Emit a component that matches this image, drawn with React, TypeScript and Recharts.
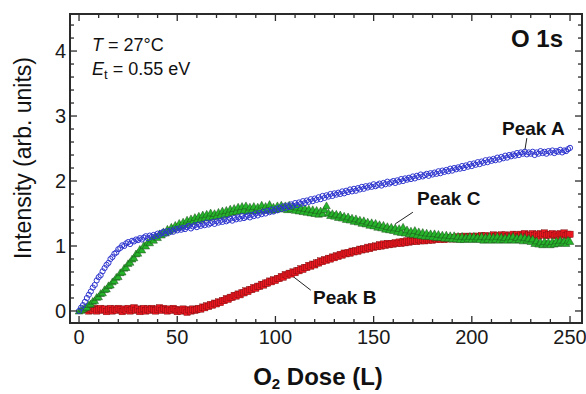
import { ScatterChart, Scatter, XAxis, YAxis, ReferenceArea, ReferenceLine } from 'recharts';

// O2 dose (L), one reading per langmuir
const dose = [
  0, 1, 2, 3, 4, 5, 6, 7, 8, 9, 10, 11, 12, 13, 14, 15, 16, 17, 18, 19,
  20, 21, 22, 23, 24, 25, 26, 27, 28, 29, 30, 31, 32, 33, 34, 35, 36, 37, 38, 39,
  40, 41, 42, 43, 44, 45, 46, 47, 48, 49, 50, 51, 52, 53, 54, 55, 56, 57, 58, 59,
  60, 61, 62, 63, 64, 65, 66, 67, 68, 69, 70, 71, 72, 73, 74, 75, 76, 77, 78, 79,
  80, 81, 82, 83, 84, 85, 86, 87, 88, 89, 90, 91, 92, 93, 94, 95, 96, 97, 98, 99,
  100, 101, 102, 103, 104, 105, 106, 107, 108, 109, 110, 111, 112, 113, 114, 115, 116, 117, 118, 119,
  120, 121, 122, 123, 124, 125, 126, 127, 128, 129, 130, 131, 132, 133, 134, 135, 136, 137, 138, 139,
  140, 141, 142, 143, 144, 145, 146, 147, 148, 149, 150, 151, 152, 153, 154, 155, 156, 157, 158, 159,
  160, 161, 162, 163, 164, 165, 166, 167, 168, 169, 170, 171, 172, 173, 174, 175, 176, 177, 178, 179,
  180, 181, 182, 183, 184, 185, 186, 187, 188, 189, 190, 191, 192, 193, 194, 195, 196, 197, 198, 199,
  200, 201, 202, 203, 204, 205, 206, 207, 208, 209, 210, 211, 212, 213, 214, 215, 216, 217, 218, 219,
  220, 221, 222, 223, 224, 225, 226, 227, 228, 229, 230, 231, 232, 233, 234, 235, 236, 237, 238, 239,
  240, 241, 242, 243, 244, 245, 246, 247, 248, 249, 250,
];

const peakA = [
  0.00, 0.05, 0.09, 0.14, 0.20, 0.25, 0.30, 0.36, 0.40, 0.47,
  0.52, 0.55, 0.61, 0.66, 0.71, 0.74, 0.80, 0.83, 0.88, 0.90,
  0.95, 0.97, 1.01, 1.00, 1.04, 1.06, 1.03, 1.08, 1.07, 1.10,
  1.09, 1.12, 1.10, 1.13, 1.15, 1.12, 1.16, 1.14, 1.17, 1.15,
  1.19, 1.17, 1.20, 1.22, 1.19, 1.23, 1.21, 1.24, 1.22, 1.26,
  1.24, 1.27, 1.25, 1.28, 1.26, 1.29, 1.31, 1.27, 1.30, 1.32,
  1.29, 1.33, 1.31, 1.34, 1.32, 1.36, 1.33, 1.35, 1.37, 1.34,
  1.38, 1.36, 1.39, 1.37, 1.41, 1.38, 1.40, 1.42, 1.39, 1.43,
  1.41, 1.44, 1.42, 1.46, 1.43, 1.45, 1.47, 1.44, 1.48, 1.46,
  1.50, 1.47, 1.51, 1.49, 1.53, 1.50, 1.54, 1.52, 1.56, 1.53,
  1.57, 1.55, 1.59, 1.57, 1.61, 1.58, 1.62, 1.60, 1.64, 1.62,
  1.66, 1.63, 1.67, 1.65, 1.69, 1.66, 1.70, 1.68, 1.72, 1.69,
  1.73, 1.71, 1.75, 1.72, 1.77, 1.74, 1.78, 1.76, 1.80, 1.77,
  1.81, 1.79, 1.82, 1.80, 1.84, 1.81, 1.85, 1.83, 1.87, 1.84,
  1.88, 1.85, 1.89, 1.87, 1.91, 1.88, 1.92, 1.90, 1.93, 1.91,
  1.95, 1.92, 1.94, 1.96, 1.93, 1.97, 1.95, 1.99, 1.96, 1.98,
  2.00, 1.97, 2.01, 1.99, 2.03, 2.00, 2.04, 2.02, 2.05, 2.03,
  2.07, 2.04, 2.08, 2.06, 2.10, 2.07, 2.09, 2.11, 2.08, 2.12,
  2.10, 2.13, 2.11, 2.15, 2.12, 2.16, 2.14, 2.17, 2.15, 2.19,
  2.16, 2.20, 2.18, 2.21, 2.19, 2.23, 2.20, 2.24, 2.22, 2.26,
  2.23, 2.27, 2.25, 2.29, 2.26, 2.30, 2.28, 2.32, 2.29, 2.33,
  2.31, 2.34, 2.32, 2.36, 2.33, 2.37, 2.35, 2.39, 2.36, 2.40,
  2.38, 2.41, 2.39, 2.43, 2.40, 2.44, 2.42, 2.45, 2.41, 2.44,
  2.42, 2.45, 2.40, 2.44, 2.42, 2.46, 2.43, 2.45, 2.42, 2.46,
  2.44, 2.47, 2.43, 2.46, 2.45, 2.48, 2.44, 2.47, 2.46, 2.49,
  2.51,
];

// Peak B is not recorded for the first few readings
const peakB = [
  null, null, null, null, 0.02, 0.00, 0.03, 0.01, 0.04, 0.00,
  0.02, 0.04, 0.01, 0.03, -0.01, 0.02, 0.04, 0.00, 0.03, 0.01,
  0.04, 0.02, -0.01, 0.03, 0.01, 0.04, 0.00, 0.02, 0.05, 0.01,
  0.03, -0.01, 0.02, 0.04, 0.00, 0.03, 0.01, 0.04, 0.02, 0.00,
  0.03, 0.05, 0.01, 0.04, 0.02, 0.00, 0.03, 0.01, 0.04, 0.02,
  -0.01, 0.02, 0.00, 0.03, 0.01, -0.02, 0.02, 0.00, 0.03, 0.01,
  0.02, 0.04, 0.03, 0.06, 0.05, 0.08, 0.07, 0.10, 0.09, 0.12,
  0.11, 0.14, 0.13, 0.16, 0.16, 0.19, 0.18, 0.21, 0.21, 0.24,
  0.23, 0.26, 0.25, 0.28, 0.28, 0.31, 0.30, 0.33, 0.33, 0.36,
  0.35, 0.38, 0.38, 0.41, 0.40, 0.43, 0.43, 0.46, 0.45, 0.48,
  0.47, 0.50, 0.50, 0.53, 0.52, 0.56, 0.55, 0.58, 0.57, 0.60,
  0.59, 0.62, 0.62, 0.65, 0.64, 0.67, 0.67, 0.70, 0.69, 0.72,
  0.71, 0.74, 0.74, 0.77, 0.76, 0.79, 0.78, 0.81, 0.80, 0.83,
  0.82, 0.85, 0.84, 0.87, 0.86, 0.89, 0.88, 0.90, 0.89, 0.92,
  0.91, 0.93, 0.92, 0.95, 0.94, 0.96, 0.95, 0.98, 0.96, 0.99,
  0.98, 1.00, 0.99, 1.02, 1.00, 1.03, 1.01, 1.04, 1.02, 1.04,
  1.03, 1.05, 1.04, 1.06, 1.04, 1.07, 1.05, 1.08, 1.06, 1.08,
  1.07, 1.09, 1.07, 1.10, 1.08, 1.10, 1.08, 1.11, 1.09, 1.11,
  1.09, 1.12, 1.10, 1.12, 1.10, 1.13, 1.10, 1.12, 1.11, 1.13,
  1.11, 1.13, 1.11, 1.14, 1.12, 1.14, 1.12, 1.15, 1.13, 1.14,
  1.12, 1.15, 1.13, 1.15, 1.13, 1.16, 1.14, 1.16, 1.13, 1.15,
  1.14, 1.17, 1.14, 1.16, 1.13, 1.17, 1.15, 1.17, 1.14, 1.16,
  1.15, 1.18, 1.15, 1.17, 1.14, 1.18, 1.16, 1.19, 1.15, 1.17,
  1.16, 1.19, 1.16, 1.18, 1.15, 1.19, 1.17, 1.20, 1.16, 1.18,
  1.17, 1.19, 1.16, 1.18, 1.15, 1.19, 1.17, 1.20, 1.16, 1.18,
  1.18,
];

const peakC = [
  0.00, 0.01, 0.03, 0.05, 0.06, 0.10, 0.11, 0.15, 0.16, 0.21,
  0.22, 0.27, 0.28, 0.33, 0.34, 0.39, 0.40, 0.45, 0.47, 0.52,
  0.53, 0.59, 0.60, 0.66, 0.67, 0.73, 0.75, 0.80, 0.82, 0.88,
  0.89, 0.95, 0.94, 1.01, 1.00, 1.06, 1.05, 1.11, 1.09, 1.15,
  1.13, 1.19, 1.17, 1.22, 1.20, 1.26, 1.23, 1.29, 1.26, 1.32,
  1.29, 1.35, 1.31, 1.37, 1.33, 1.40, 1.36, 1.42, 1.38, 1.44,
  1.40, 1.46, 1.41, 1.48, 1.43, 1.49, 1.44, 1.51, 1.45, 1.50,
  1.46, 1.52, 1.47, 1.54, 1.48, 1.55, 1.50, 1.57, 1.52, 1.58,
  1.53, 1.60, 1.54, 1.61, 1.55, 1.62, 1.54, 1.60, 1.55, 1.61,
  1.54, 1.60, 1.56, 1.63, 1.55, 1.61, 1.56, 1.64, 1.55, 1.60,
  1.56, 1.62, 1.57, 1.63, 1.58, 1.62, 1.56, 1.63, 1.57, 1.61,
  1.55, 1.60, 1.54, 1.59, 1.53, 1.58, 1.52, 1.57, 1.51, 1.56,
  1.50, 1.55, 1.49, 1.54, 1.50, 1.56, 1.62, 1.51, 1.47, 1.50,
  1.46, 1.49, 1.44, 1.48, 1.43, 1.46, 1.41, 1.45, 1.40, 1.43,
  1.38, 1.42, 1.37, 1.40, 1.35, 1.39, 1.34, 1.37, 1.32, 1.36,
  1.31, 1.35, 1.29, 1.33, 1.28, 1.32, 1.26, 1.30, 1.25, 1.29,
  1.24, 1.28, 1.22, 1.27, 1.21, 1.29, 1.20, 1.25, 1.19, 1.23,
  1.18, 1.24, 1.17, 1.22, 1.16, 1.21, 1.15, 1.20, 1.15, 1.19,
  1.14, 1.19, 1.13, 1.18, 1.13, 1.17, 1.12, 1.17, 1.12, 1.16,
  1.11, 1.16, 1.11, 1.15, 1.10, 1.15, 1.10, 1.14, 1.11, 1.15,
  1.10, 1.15, 1.11, 1.14, 1.10, 1.15, 1.09, 1.14, 1.10, 1.15,
  1.09, 1.14, 1.10, 1.15, 1.09, 1.14, 1.10, 1.13, 1.09, 1.14,
  1.10, 1.15, 1.09, 1.13, 1.10, 1.14, 1.08, 1.13, 1.09, 1.12,
  1.07, 1.11, 1.04, 1.08, 1.03, 1.06, 1.02, 1.07, 1.03, 1.06,
  1.02, 1.07, 1.03, 1.08, 1.04, 1.09, 1.05, 1.08, 1.04, 1.09,
  1.07,
];

const xTicks = [0, 10, 20, 30, 40, 50, 60, 70, 80, 90, 100, 110, 120, 130, 140, 150, 160, 170, 180, 190, 200, 210, 220, 230, 240, 250];
const xLabels = [0, 50, 100, 150, 200, 250];
const yTicks = [0, 0.2, 0.4, 0.6, 0.8, 1, 1.2, 1.4, 1.6, 1.8, 2, 2.2, 2.4, 2.6, 2.8, 3, 3.2, 3.4, 3.6, 3.8, 4, 4.2, 4.4];
const yLabels = [0, 1, 2, 3, 4];

// label pointer segments, in data units
const pointerA = [{ x: 228, y: 2.66 }, { x: 227, y: 2.47 }];
const pointerC = [{ x: 170, y: 1.52 }, { x: 161, y: 1.34 }];
const pointerB = [{ x: 118, y: 0.32 }, { x: 109, y: 0.53 }];

const W = 586;
const H = 394;
const MARGIN = { top: 14, right: 4, left: 0, bottom: 0 };
const Y_AXIS_W = 70;
const X_AXIS_H = 71;
const PLOT_TOP = MARGIN.top;
const PLOT_RIGHT = W - MARGIN.right;
const X_DOMAIN = [-4.6, 256.1];
const Y_DOMAIN = [-0.185, 4.57];

const AXIS = '#2b2b2b';
const FONT = '"Liberation Sans", Arial, Helvetica, sans-serif';

const toPoints = (ys: (number | null)[]) =>
  dose.map((x, i) => ({ x, y: ys[i] })).filter((p) => p.y !== null);

const XTick = (props: any) => {
  const { x, y, payload } = props;
  const major = xLabels.includes(payload.value);
  const len = major ? 7 : 4;
  return (
    <g>
      <line x1={x} y1={y} x2={x} y2={y - len} stroke={AXIS} strokeWidth={1.3} />
      <line x1={x} y1={PLOT_TOP} x2={x} y2={PLOT_TOP + len} stroke={AXIS} strokeWidth={1.3} />
      {major && (
        <text x={x} y={y + 21} textAnchor="middle" fontSize={20} fill="#1a1a1a" fontFamily={FONT}>
          {payload.value}
        </text>
      )}
    </g>
  );
};

const YTick = (props: any) => {
  const { x, y, payload } = props;
  const major = yLabels.some((v) => Math.abs(v - payload.value) < 1e-6);
  const len = major ? 7 : 4;
  return (
    <g>
      <line x1={x} y1={y} x2={x + len} y2={y} stroke={AXIS} strokeWidth={1.3} />
      <line x1={PLOT_RIGHT} y1={y} x2={PLOT_RIGHT - len} y2={y} stroke={AXIS} strokeWidth={1.3} />
      {major && (
        <text x={x - 4} y={y + 7} textAnchor="end" fontSize={20} fill="#1a1a1a" fontFamily={FONT}>
          {payload.value}
        </text>
      )}
    </g>
  );
};

const Circle = (props: any) => (
  <circle cx={props.cx} cy={props.cy} r={2.6} fill="none" stroke="#2f36cf" strokeWidth={1} />
);

const Triangle = (props: any) => {
  const { cx, cy } = props;
  const s = 3.8;
  return (
    <path
      d={`M${cx},${cy - s} L${cx + s},${cy + s * 0.8} L${cx - s},${cy + s * 0.8} Z`}
      fill="#26b52a"
      stroke="#1d4f1d"
      strokeWidth={0.5}
    />
  );
};

const Square = (props: any) => {
  const { cx, cy } = props;
  const s = 3.2;
  return <rect x={cx - s} y={cy - s} width={s * 2} height={s * 2} fill="#e8161f" stroke="#701010" strokeWidth={0.4} />;
};

const textStyle = { fontFamily: FONT, fill: '#111' };

export default function App() {
  return (
    <div style={{ position: 'absolute', left: 0, top: 0, width: W, height: H, background: '#fff' }}>
      <ScatterChart width={W} height={H} margin={MARGIN}>
        <XAxis
          type="number"
          dataKey="x"
          domain={X_DOMAIN}
          ticks={xTicks}
          interval={0}
          allowDataOverflow
          height={X_AXIS_H}
          tickSize={0}
          tickMargin={0}
          tickLine={false}
          axisLine={false}
          tick={<XTick />}
        />
        <YAxis
          type="number"
          dataKey="y"
          domain={Y_DOMAIN}
          ticks={yTicks}
          interval={0}
          allowDataOverflow
          width={Y_AXIS_W}
          tickSize={0}
          tickMargin={0}
          tickLine={false}
          axisLine={false}
          tick={<YTick />}
        />
        <Scatter data={toPoints(peakB)} shape={<Square />} isAnimationActive={false} />
        <Scatter data={toPoints(peakC)} shape={<Triangle />} isAnimationActive={false} />
        <Scatter data={toPoints(peakA)} shape={<Circle />} isAnimationActive={false} />
        <ReferenceLine segment={pointerA} stroke="#222" strokeWidth={1} />
        <ReferenceLine segment={pointerC} stroke="#222" strokeWidth={1} />
        <ReferenceLine segment={pointerB} stroke="#222" strokeWidth={1} />
        <ReferenceArea
          x1={X_DOMAIN[0]}
          x2={X_DOMAIN[1]}
          y1={Y_DOMAIN[0]}
          y2={Y_DOMAIN[1]}
          fill="none"
          fillOpacity={0}
          stroke={AXIS}
          strokeWidth={2}
          ifOverflow="visible"
        />
      </ScatterChart>
      <svg width={W} height={H} style={{ position: 'absolute', left: 0, top: 0, pointerEvents: 'none' }}>
        <text x={92} y={51} fontSize={18} {...textStyle}>
          <tspan fontStyle="italic">T</tspan> = 27°C
        </text>
        <text x={92} y={75} fontSize={18} {...textStyle}>
          <tspan fontStyle="italic">E</tspan>
          <tspan fontSize={13} dy={4}>t</tspan>
          <tspan dy={-4}> = 0.55 eV</tspan>
        </text>
        <text x={563} y={47} fontSize={24} fontWeight="bold" textAnchor="end" {...textStyle}>
          O 1s
        </text>
        <text x={502} y={135} fontSize={19} fontWeight="bold" {...textStyle}>
          Peak A
        </text>
        <text x={417} y={205} fontSize={19} fontWeight="bold" {...textStyle}>
          Peak C
        </text>
        <text x={313} y={304} fontSize={19} fontWeight="bold" {...textStyle}>
          Peak B
        </text>
        <text
          x={0}
          y={0}
          fontSize={23}
          textAnchor="middle"
          transform="translate(31,158) rotate(-90)"
          {...textStyle}
        >
          Intensity (arb. units)
        </text>
        <text x={318} y={385} fontSize={24} textAnchor="middle" fontWeight="bold" {...textStyle}>
          O<tspan fontSize={15} dy={4}>2</tspan>
          <tspan dy={-4}> Dose (L)</tspan>
        </text>
      </svg>
    </div>
  );
}
